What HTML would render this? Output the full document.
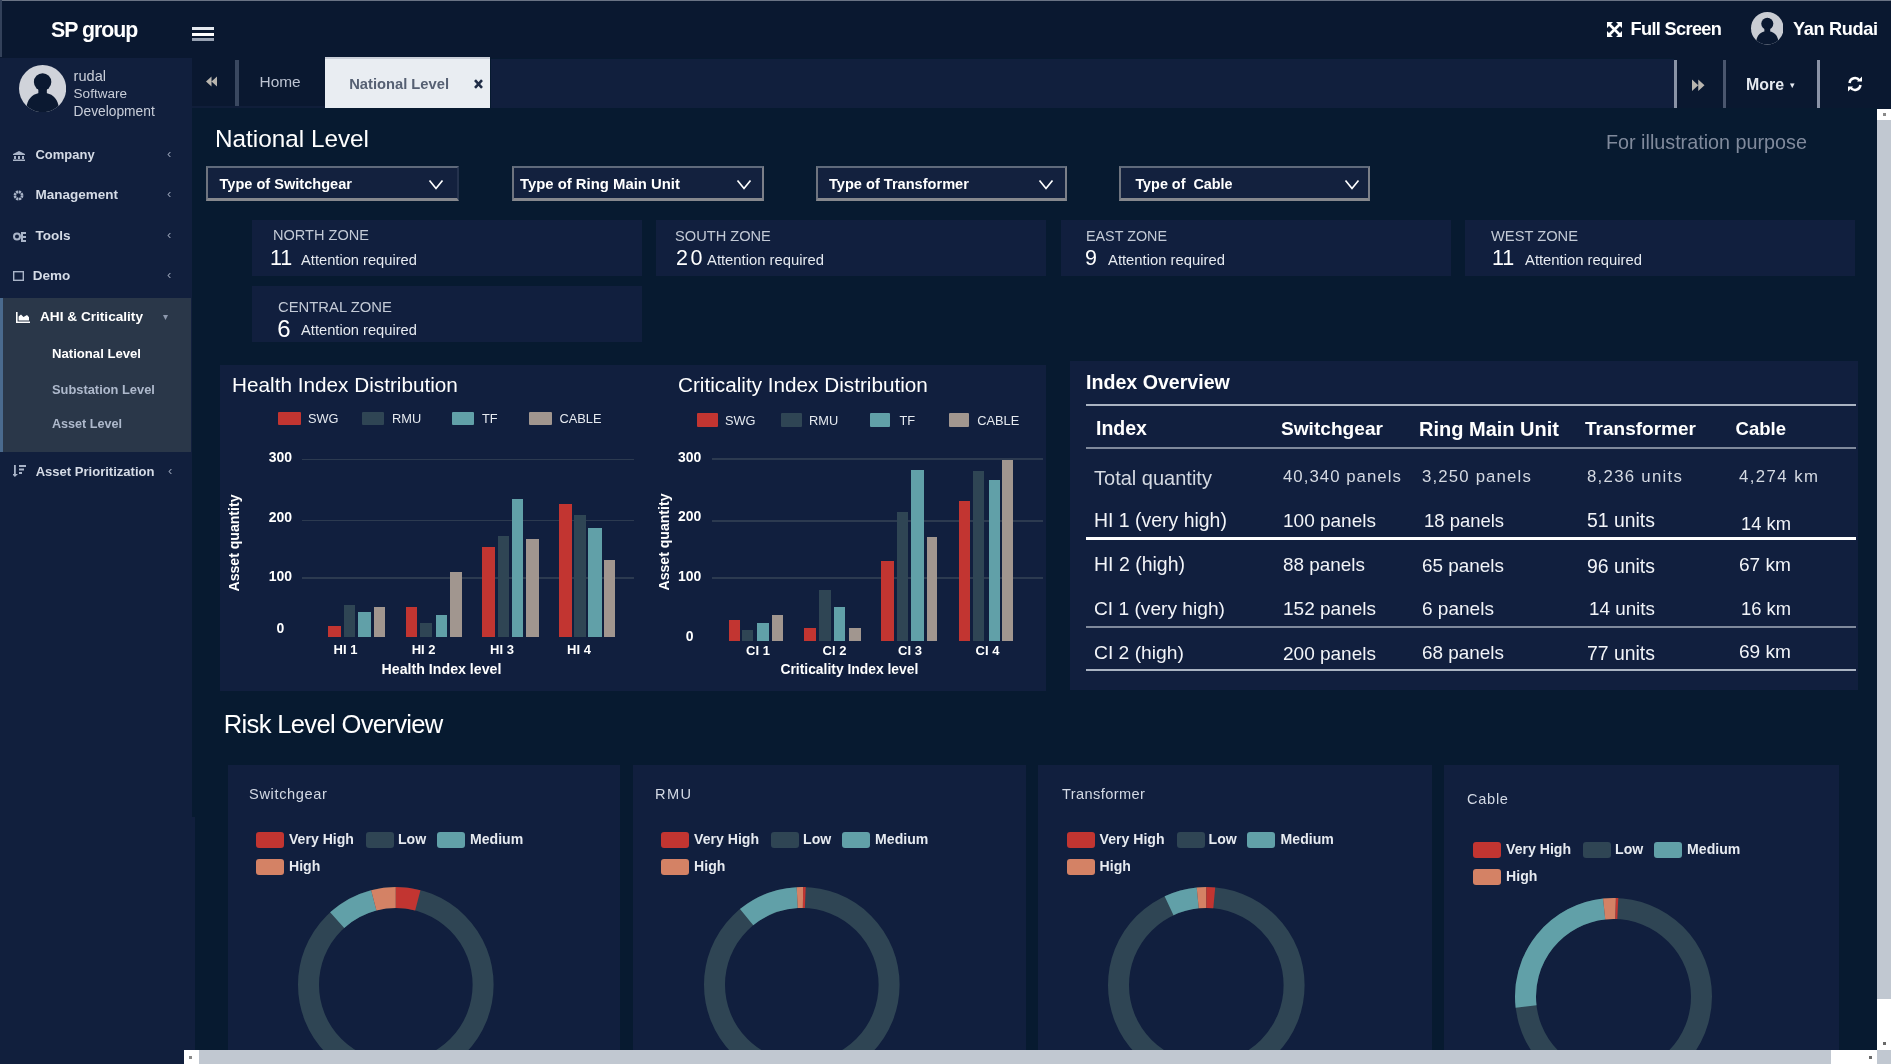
<!DOCTYPE html>
<html><head><meta charset="utf-8"><title>National Level</title>
<style>
html,body{margin:0;padding:0;}
body{width:1891px;height:1064px;overflow:hidden;background:#071a30;font-family:"Liberation Sans",sans-serif;position:relative;}
.t{position:absolute;white-space:nowrap;filter:blur(0.65px);}
svg.r{filter:blur(0.5px);}
.r{position:absolute;}
</style></head><body>
<div class="r" style="left:0px;top:0px;width:1891px;height:58px;background:#0a1830;"></div>
<div class="r" style="left:0px;top:58px;width:192px;height:760px;background:#111f3d;"></div>
<div class="r" style="left:192px;top:58px;width:133px;height:48px;background:#0a1830;"></div>
<div class="r" style="left:1674px;top:58px;width:217px;height:50.5px;background:#0a1830;"></div>
<div class="r" style="left:192px;top:106px;width:133px;height:2px;background:#101e3a;"></div>
<div class="r" style="left:490.5px;top:59.2px;width:1183.2px;height:48.9px;background:#111f3d;"></div>
<div class="r" style="left:0px;top:0px;width:1891px;height:1px;background:#6a7384;"></div>
<div class="r" style="left:0px;top:0px;width:2px;height:57px;background:#33415a;"></div>
<div class="t" style="left:51px;top:17.9px;font-size:21.3px;line-height:25.6px;color:#fff;font-weight:bold;letter-spacing:-0.997px;">SP group</div>
<div class="r" style="left:192px;top:27.3px;width:22px;height:3px;background:#e4e8ee;"></div>
<div class="r" style="left:192px;top:32.5px;width:22px;height:3px;background:#ffffff;"></div>
<div class="r" style="left:192px;top:37.7px;width:22px;height:3px;background:#98a2b3;"></div>
<svg class="r" style="left:1606px;top:21px" width="17" height="17" viewBox="0 0 17 17"><g stroke="#fff" stroke-width="2.6" fill="none"><path d="M2.5 2.5 L14.5 14.5 M14.5 2.5 L2.5 14.5"/></g><g fill="#fff"><path d="M1 1h6L1 7z M16 1v6L10 1z M1 16v-6l6 6z M16 16h-6l6-6z"/></g></svg>
<div class="t" style="left:1630.6px;top:18.7px;font-size:18.2px;line-height:21.8px;color:#fff;font-weight:bold;letter-spacing:-0.671px;">Full Screen</div>
<div class="t" style="left:1793px;top:18.7px;font-size:18.2px;line-height:21.8px;color:#fff;font-weight:bold;letter-spacing:-0.373px;">Yan Rudai</div>
<svg class="r" style="left:1750.7px;top:12.0px" width="32.6" height="32.6" viewBox="0 0 100 100"><defs><clipPath id="c1767"><circle cx="50" cy="50" r="50"/></clipPath></defs><circle cx="50" cy="50" r="50" fill="#c9ccd3"/><g clip-path="url(#c1767)" fill="#0a1830"><circle cx="50" cy="36" r="18.5"/><rect x="41" y="48" width="18" height="16"/><path d="M15 100 C15 68 33 59 50 59 C67 59 85 68 85 100 Z"/></g></svg>
<svg class="r" style="left:18.6px;top:64.6px" width="47.2" height="47.2" viewBox="0 0 100 100"><defs><clipPath id="c42"><circle cx="50" cy="50" r="50"/></clipPath></defs><circle cx="50" cy="50" r="50" fill="#d0d3da"/><g clip-path="url(#c42)" fill="#0b1931"><circle cx="50" cy="36" r="18.5"/><rect x="41" y="48" width="18" height="16"/><path d="M15 100 C15 68 33 59 50 59 C67 59 85 68 85 100 Z"/></g></svg>
<div class="t" style="left:73.6px;top:67.5px;font-size:14.57px;line-height:17.5px;color:#c9ced9;">rudal</div>
<div class="t" style="left:73.6px;top:85.9px;font-size:13.53px;line-height:16.2px;color:#c9ced9;">Software</div>
<div class="t" style="left:73.6px;top:104.0px;font-size:13.78px;line-height:16.5px;color:#c9ced9;">Development</div>
<div class="t" style="left:35.5px;top:147.2px;font-size:12.97px;line-height:15.6px;color:#d5dbe6;font-weight:bold;">Company</div>
<svg class="r" style="left:13px;top:calc(155px - 4px)" width="12" height="10" viewBox="0 0 12 10"><path d="M0 3 L6 0 L12 3 V4 H0Z M1 5h2v3H1z M5 5h2v3H5z M9 5h2v3H9z M0 8.6h12V10H0z" fill="#a9b4c8"/></svg>
<div class="t" style="left:167px;top:146.2px;font-size:13px;line-height:15.6px;color:#8d98ad;">‹</div>
<div class="t" style="left:35.5px;top:186.9px;font-size:13.5px;line-height:16.2px;color:#d5dbe6;font-weight:bold;">Management</div>
<svg class="r" style="left:13px;top:calc(195px - 5.5px)" width="11" height="11" viewBox="0 0 11 11"><circle cx="5.5" cy="5.5" r="3.6" fill="none" stroke="#a9b4c8" stroke-width="2.6" stroke-dasharray="2.2 0.6"/></svg>
<div class="t" style="left:167px;top:186.2px;font-size:13px;line-height:15.6px;color:#8d98ad;">‹</div>
<div class="t" style="left:35.5px;top:227.9px;font-size:13.54px;line-height:16.2px;color:#d5dbe6;font-weight:bold;">Tools</div>
<svg class="r" style="left:13px;top:calc(236px - 5.5px)" width="14" height="11" viewBox="0 0 14 11"><circle cx="4" cy="5.5" r="3" fill="none" stroke="#a9b4c8" stroke-width="2"/><path d="M8 1h5v2H10v2h3v2H10v2h3v2H8z" fill="#a9b4c8"/></svg>
<div class="t" style="left:167px;top:227.2px;font-size:13px;line-height:15.6px;color:#8d98ad;">‹</div>
<div class="t" style="left:32.7px;top:267.9px;font-size:13.53px;line-height:16.2px;color:#d5dbe6;font-weight:bold;">Demo</div>
<svg class="r" style="left:13px;top:calc(276px - 5px)" width="11" height="10" viewBox="0 0 11 10"><rect x="0.7" y="0.7" width="9.6" height="8.6" fill="none" stroke="#a9b4c8" stroke-width="1.4"/></svg>
<div class="t" style="left:167px;top:267.2px;font-size:13px;line-height:15.6px;color:#8d98ad;">‹</div>
<div class="r" style="left:0px;top:298px;width:191px;height:154px;background:#2a3749;"></div>
<div class="r" style="left:0px;top:298px;width:3px;height:154px;background:#4a6a8e;"></div>
<svg class="r" style="left:16px;top:311.5px" width="14" height="11" viewBox="0 0 14 11"><path d="M0 0h1.6v9.4H14V11H0z M2.6 8.4V4.5L5 2.5l2.5 2.5L11 3l2 2.2v3.2z" fill="#fff"/></svg>
<div class="t" style="left:40px;top:308.8px;font-size:13.63px;line-height:16.4px;color:#fff;font-weight:bold;">AHI &amp; Criticality</div>
<div class="t" style="left:163px;top:311.0px;font-size:10px;line-height:12.0px;color:#8d98ad;">▾</div>
<div class="t" style="left:52px;top:346.1px;font-size:13.13px;line-height:15.8px;color:#fff;font-weight:bold;">National Level</div>
<div class="t" style="left:52px;top:382.3px;font-size:12.87px;line-height:15.4px;color:#aeb9cc;font-weight:bold;">Substation Level</div>
<div class="t" style="left:52px;top:417.4px;font-size:12.59px;line-height:15.1px;color:#aeb9cc;font-weight:bold;">Asset Level</div>
<div class="t" style="left:35.7px;top:463.6px;font-size:13.04px;line-height:15.6px;color:#d5dbe6;font-weight:bold;">Asset Prioritization</div>
<svg class="r" style="left:13px;top:calc(471.4px - 6px)" width="13" height="12" viewBox="0 0 13 12"><path d="M1 0h1.8v9H5L1.9 12 -1 9H1z M6 0h7v2H6z M6 3.5h5v2H6z M6 7h3v2H6z" fill="#a9b4c8"/></svg>
<div class="t" style="left:168px;top:462.6px;font-size:13px;line-height:15.6px;color:#8d98ad;">‹</div>
<svg class="r" style="left:206px;top:76px" width="11" height="11" viewBox="0 0 11 11"><path d="M5.5 0.5v10L0 5.5z M11 0.5v10L5.5 5.5z" fill="#b9b5ae"/></svg>
<div class="r" style="left:234.5px;top:60px;width:4px;height:45.5px;background:#3a4860;"></div>
<div class="t" style="left:259.5px;top:72.8px;font-size:15.45px;line-height:18.5px;color:#bcc3d2;">Home</div>
<div class="r" style="left:325px;top:57.4px;width:165.4px;height:51.3px;background:#e9edf2;"></div>
<div class="r" style="left:325px;top:57.4px;width:165.4px;height:1.6px;background:#c9ced8;"></div>
<div class="t" style="left:349.2px;top:76.2px;font-size:14.72px;line-height:17.7px;color:#566073;font-weight:bold;">National Level</div>
<svg class="r" style="left:473.5px;top:79.2px" width="9" height="10" viewBox="0 0 9 10"><path d="M1 1.2 L8 8.8 M8 1.2 L1 8.8" stroke="#1f2c46" stroke-width="2.6"/></svg>
<div class="r" style="left:1674px;top:59.7px;width:3px;height:49px;background:#8a93a6;"></div>
<svg class="r" style="left:1692px;top:79px" width="12.5" height="12.5" viewBox="0 0 11 11"><path d="M0 0.5v10L5.5 5.5z M5.5 0.5v10L11 5.5z" fill="#b9b5ae"/></svg>
<div class="r" style="left:1723px;top:59.7px;width:2.6px;height:49px;background:#4a566e;"></div>
<div class="t" style="left:1746px;top:74.5px;font-size:15.91px;line-height:19.1px;color:#e6eaf0;font-weight:bold;">More</div>
<div class="t" style="left:1789.5px;top:79.8px;font-size:9px;line-height:10.8px;color:#e6eaf0;">▾</div>
<div class="r" style="left:1817.3px;top:59.7px;width:3px;height:49px;background:#8a93a6;"></div>
<svg class="r" style="left:1847px;top:76px" width="16" height="16" viewBox="0 0 16 16"><path d="M2.5 7 A5.5 5.5 0 0 1 12.5 4.5" stroke="#fff" stroke-width="2.4" fill="none"/><path d="M13.5 9 A5.5 5.5 0 0 1 3.5 11.5" stroke="#fff" stroke-width="2.4" fill="none"/><path d="M10 5.5h5v-5z M6 10.5h-5v5z" fill="#fff"/></svg>
<div class="r" style="left:192px;top:108px;width:1685px;height:942px;background:#071a30;"></div>
<div class="r" style="left:0px;top:817px;width:195px;height:247px;background:#111f3d;"></div>
<div class="t" style="left:215px;top:124.4px;font-size:24.3px;line-height:29.2px;color:#fff;">National Level</div>
<div class="t" style="left:1606px;top:131.1px;font-size:19.76px;line-height:23.7px;color:#808a9c;">For illustration purpose</div>
<div class="r" style="left:206px;top:165.5px;width:252.5px;height:35px;background:#13213e;box-sizing:border-box;border-style:solid;border-width:2.5px 2px 3px 2px;border-color:#5f6a7b #24324d #86888d #6e747f"></div>
<div class="t" style="left:219.5px;top:176.2px;font-size:14.57px;line-height:17.5px;color:#fff;font-weight:bold;">Type of Switchgear</div>
<svg class="r" style="left:428.3px;top:178.8px" width="16" height="12" viewBox="0 0 16 12"><path d="M1.5 1.5 L8 9.5 L14.5 1.5" stroke="#fff" stroke-width="1.7" fill="none"/></svg>
<div class="r" style="left:511.5px;top:165.5px;width:252.3px;height:35px;background:#13213e;box-sizing:border-box;border-style:solid;border-width:2.5px 2px 3px 2px;border-color:#5f6a7b #7b7f88 #86888d #6e747f"></div>
<div class="t" style="left:520px;top:176.1px;font-size:14.87px;line-height:17.8px;color:#fff;font-weight:bold;">Type of Ring Main Unit</div>
<svg class="r" style="left:735.8px;top:178.8px" width="16" height="12" viewBox="0 0 16 12"><path d="M1.5 1.5 L8 9.5 L14.5 1.5" stroke="#fff" stroke-width="1.7" fill="none"/></svg>
<div class="r" style="left:815.5px;top:165.5px;width:251.7px;height:35px;background:#13213e;box-sizing:border-box;border-style:solid;border-width:2.5px 2px 3px 2px;border-color:#5f6a7b #7b7f88 #86888d #6e747f"></div>
<div class="t" style="left:829px;top:176.2px;font-size:14.59px;line-height:17.5px;color:#fff;font-weight:bold;">Type of Transformer</div>
<svg class="r" style="left:1038px;top:178.8px" width="16" height="12" viewBox="0 0 16 12"><path d="M1.5 1.5 L8 9.5 L14.5 1.5" stroke="#fff" stroke-width="1.7" fill="none"/></svg>
<div class="r" style="left:1119px;top:165.5px;width:251.3px;height:35px;background:#13213e;box-sizing:border-box;border-style:solid;border-width:2.5px 2px 3px 2px;border-color:#5f6a7b #7b7f88 #86888d #6e747f"></div>
<div class="t" style="left:1135.4px;top:176.3px;font-size:14.39px;line-height:17.3px;color:#fff;font-weight:bold;">Type of&nbsp; Cable</div>
<svg class="r" style="left:1344.3px;top:178.8px" width="16" height="12" viewBox="0 0 16 12"><path d="M1.5 1.5 L8 9.5 L14.5 1.5" stroke="#fff" stroke-width="1.7" fill="none"/></svg>
<div class="r" style="left:252px;top:219.8px;width:390px;height:56.7px;background:#111f3e;"></div>
<div class="t" style="left:273px;top:226.8px;font-size:14.56px;line-height:17.5px;color:#c3cad6;">NORTH ZONE</div>
<div class="t" style="left:270px;top:245.8px;font-size:21.5px;line-height:25.8px;color:#fff;">11</div>
<div class="t" style="left:301px;top:252.4px;font-size:14.69px;line-height:17.6px;color:#e6eaf0;">Attention required</div>
<div class="r" style="left:656px;top:219.8px;width:390px;height:56.7px;background:#111f3e;"></div>
<div class="t" style="left:675px;top:227.8px;font-size:14.64px;line-height:17.6px;color:#c3cad6;">SOUTH ZONE</div>
<div class="t" style="left:676px;top:245.8px;font-size:21.5px;line-height:25.8px;color:#fff;letter-spacing:2.6px;">20</div>
<div class="t" style="left:707px;top:252.3px;font-size:14.82px;line-height:17.8px;color:#e6eaf0;">Attention required</div>
<div class="r" style="left:1061px;top:219.8px;width:390px;height:56.7px;background:#111f3e;"></div>
<div class="t" style="left:1086px;top:228.0px;font-size:14.34px;line-height:17.2px;color:#c3cad6;">EAST ZONE</div>
<div class="t" style="left:1085px;top:245.8px;font-size:21.5px;line-height:25.8px;color:#fff;">9</div>
<div class="t" style="left:1108px;top:252.3px;font-size:14.82px;line-height:17.8px;color:#e6eaf0;">Attention required</div>
<div class="r" style="left:1465px;top:219.8px;width:390px;height:56.7px;background:#111f3e;"></div>
<div class="t" style="left:1491px;top:227.8px;font-size:14.68px;line-height:17.6px;color:#c3cad6;">WEST ZONE</div>
<div class="t" style="left:1492px;top:245.8px;font-size:21.5px;line-height:25.8px;color:#fff;">11</div>
<div class="t" style="left:1525px;top:252.3px;font-size:14.82px;line-height:17.8px;color:#e6eaf0;">Attention required</div>
<div class="r" style="left:252px;top:285.8px;width:390px;height:56.7px;background:#111f3e;"></div>
<div class="t" style="left:278px;top:298.7px;font-size:14.83px;line-height:17.8px;color:#c3cad6;">CENTRAL ZONE</div>
<div class="t" style="left:277.3px;top:314.9px;font-size:24px;line-height:28.8px;color:#fff;">6</div>
<div class="t" style="left:301px;top:322.4px;font-size:14.69px;line-height:17.6px;color:#e6eaf0;">Attention required</div>
<div class="r" style="left:220px;top:365px;width:826px;height:326px;background:#111f3e;"></div>
<div class="t" style="left:232px;top:372.6px;font-size:20.74px;line-height:24.9px;color:#fff;">Health Index Distribution</div>
<div class="r" style="left:278px;top:412px;width:23px;height:13px;background:#c23531;border-radius:1px"></div>
<div class="t" style="left:308px;top:411.3px;font-size:12.81px;line-height:15.4px;color:#e6eaf0;">SWG</div>
<div class="r" style="left:362px;top:412px;width:22px;height:13px;background:#2f4554;border-radius:1px"></div>
<div class="t" style="left:392px;top:411.3px;font-size:12.81px;line-height:15.4px;color:#e6eaf0;">RMU</div>
<div class="r" style="left:452px;top:412px;width:22px;height:13px;background:#61a0a8;border-radius:1px"></div>
<div class="t" style="left:482px;top:411.3px;font-size:12.81px;line-height:15.4px;color:#e6eaf0;">TF</div>
<div class="r" style="left:529px;top:412px;width:22.5px;height:13px;background:#a1968f;border-radius:1px"></div>
<div class="t" style="left:559.5px;top:411.3px;font-size:12.81px;line-height:15.4px;color:#e6eaf0;">CABLE</div>
<div class="r" style="left:302px;top:458.85px;width:332px;height:1.5px;background:#2c3a50;"></div>
<div class="r" style="left:302px;top:519.75px;width:332px;height:1.5px;background:#2c3a50;"></div>
<div class="r" style="left:302px;top:577.25px;width:332px;height:1.5px;background:#2c3a50;"></div>
<div class="t" style="left:80.30000000000001px;width:400px;text-align:center;top:448.9px;font-size:13.96px;line-height:16.8px;color:#fff;font-weight:bold;">300</div>
<div class="t" style="left:80.30000000000001px;width:400px;text-align:center;top:509.0px;font-size:13.96px;line-height:16.8px;color:#fff;font-weight:bold;">200</div>
<div class="t" style="left:80.30000000000001px;width:400px;text-align:center;top:568.3px;font-size:13.96px;line-height:16.8px;color:#fff;font-weight:bold;">100</div>
<div class="t" style="left:80.30000000000001px;width:400px;text-align:center;top:620.3px;font-size:13.96px;line-height:16.8px;color:#fff;font-weight:bold;">0</div>
<div class="r" style="left:328.3px;top:626px;width:12.7px;height:11px;background:#c23531;"></div>
<div class="r" style="left:344px;top:604.5px;width:11.2px;height:32.5px;background:#2f4554;"></div>
<div class="r" style="left:357.7px;top:612px;width:13.2px;height:25px;background:#61a0a8;"></div>
<div class="r" style="left:373.5px;top:607px;width:11.0px;height:30px;background:#a1968f;"></div>
<div class="r" style="left:406.3px;top:607px;width:11.2px;height:30px;background:#c23531;"></div>
<div class="r" style="left:420px;top:622.7px;width:11.5px;height:14.3px;background:#2f4554;"></div>
<div class="r" style="left:435.5px;top:614.8px;width:11.9px;height:22.2px;background:#61a0a8;"></div>
<div class="r" style="left:449.8px;top:572px;width:12.2px;height:65px;background:#a1968f;"></div>
<div class="r" style="left:482px;top:547.4px;width:12.5px;height:89.6px;background:#c23531;"></div>
<div class="r" style="left:498px;top:536.4px;width:11.3px;height:100.6px;background:#2f4554;"></div>
<div class="r" style="left:512px;top:498.5px;width:11.4px;height:138.5px;background:#61a0a8;"></div>
<div class="r" style="left:526px;top:539.3px;width:13px;height:97.7px;background:#a1968f;"></div>
<div class="r" style="left:558.6px;top:504px;width:13.0px;height:133px;background:#c23531;"></div>
<div class="r" style="left:573.6px;top:515px;width:12.4px;height:122px;background:#2f4554;"></div>
<div class="r" style="left:588px;top:528px;width:14px;height:109px;background:#61a0a8;"></div>
<div class="r" style="left:604px;top:560px;width:11px;height:77px;background:#a1968f;"></div>
<div class="t" style="left:145.5px;width:400px;text-align:center;top:642.2px;font-size:13px;line-height:15.6px;color:#fff;font-weight:bold;">HI 1</div>
<div class="t" style="left:223.60000000000002px;width:400px;text-align:center;top:642.2px;font-size:13px;line-height:15.6px;color:#fff;font-weight:bold;">HI 2</div>
<div class="t" style="left:302px;width:400px;text-align:center;top:642.2px;font-size:13px;line-height:15.6px;color:#fff;font-weight:bold;">HI 3</div>
<div class="t" style="left:379px;width:400px;text-align:center;top:642.2px;font-size:13px;line-height:15.6px;color:#fff;font-weight:bold;">HI 4</div>
<div class="t" style="left:241.5px;width:400px;text-align:center;top:661.0px;font-size:14.2px;line-height:17.0px;color:#fff;font-weight:bold;">Health Index level</div>
<div class="t" style="left:133.5px;top:534.5px;width:200px;height:16px;line-height:16px;text-align:center;font-size:14.08px;font-weight:bold;color:#fff;transform:rotate(-90deg)">Asset quantity</div>
<div class="t" style="left:678px;top:372.6px;font-size:20.73px;line-height:24.9px;color:#fff;">Criticality Index Distribution</div>
<div class="r" style="left:696.5px;top:412.5px;width:21.5px;height:14.5px;background:#c23531;border-radius:1px"></div>
<div class="t" style="left:725px;top:412.6px;font-size:12.81px;line-height:15.4px;color:#e6eaf0;">SWG</div>
<div class="r" style="left:780.5px;top:412.5px;width:21.0px;height:14.5px;background:#2f4554;border-radius:1px"></div>
<div class="t" style="left:809px;top:412.6px;font-size:12.81px;line-height:15.4px;color:#e6eaf0;">RMU</div>
<div class="r" style="left:869.7px;top:412.5px;width:20.699999999999932px;height:14.5px;background:#61a0a8;border-radius:1px"></div>
<div class="t" style="left:899.5px;top:412.6px;font-size:12.81px;line-height:15.4px;color:#e6eaf0;">TF</div>
<div class="r" style="left:948.6px;top:412.5px;width:20.899999999999977px;height:14.5px;background:#a1968f;border-radius:1px"></div>
<div class="t" style="left:977.3px;top:412.6px;font-size:12.81px;line-height:15.4px;color:#e6eaf0;">CABLE</div>
<div class="r" style="left:712px;top:458.25px;width:330.5999999999999px;height:1.5px;background:#2c3a50;"></div>
<div class="r" style="left:712px;top:520.25px;width:330.5999999999999px;height:1.5px;background:#2c3a50;"></div>
<div class="r" style="left:712px;top:577.25px;width:330.5999999999999px;height:1.5px;background:#2c3a50;"></div>
<div class="t" style="left:489.70000000000005px;width:400px;text-align:center;top:449.1px;font-size:13.96px;line-height:16.8px;color:#fff;font-weight:bold;">300</div>
<div class="t" style="left:489.70000000000005px;width:400px;text-align:center;top:508.3px;font-size:13.96px;line-height:16.8px;color:#fff;font-weight:bold;">200</div>
<div class="t" style="left:489.70000000000005px;width:400px;text-align:center;top:568.3px;font-size:13.96px;line-height:16.8px;color:#fff;font-weight:bold;">100</div>
<div class="t" style="left:489.70000000000005px;width:400px;text-align:center;top:628.1px;font-size:13.96px;line-height:16.8px;color:#fff;font-weight:bold;">0</div>
<div class="r" style="left:728.6px;top:620px;width:11.0px;height:21px;background:#c23531;"></div>
<div class="r" style="left:742px;top:630px;width:11px;height:11px;background:#2f4554;"></div>
<div class="r" style="left:757px;top:623px;width:12px;height:18px;background:#61a0a8;"></div>
<div class="r" style="left:772px;top:615px;width:11.4px;height:26px;background:#a1968f;"></div>
<div class="r" style="left:804px;top:628px;width:11.6px;height:13px;background:#c23531;"></div>
<div class="r" style="left:819px;top:590px;width:12px;height:51px;background:#2f4554;"></div>
<div class="r" style="left:833.5px;top:607px;width:11.5px;height:34px;background:#61a0a8;"></div>
<div class="r" style="left:848.7px;top:628px;width:12.3px;height:13px;background:#a1968f;"></div>
<div class="r" style="left:881px;top:560.6px;width:12.7px;height:80.4px;background:#c23531;"></div>
<div class="r" style="left:896.8px;top:512px;width:11.2px;height:129px;background:#2f4554;"></div>
<div class="r" style="left:910.5px;top:470px;width:13.5px;height:171px;background:#61a0a8;"></div>
<div class="r" style="left:926.6px;top:537px;width:10.4px;height:104px;background:#a1968f;"></div>
<div class="r" style="left:959px;top:501px;width:11px;height:140px;background:#c23531;"></div>
<div class="r" style="left:973px;top:471.3px;width:11px;height:169.7px;background:#2f4554;"></div>
<div class="r" style="left:989px;top:479.6px;width:10.6px;height:161.4px;background:#61a0a8;"></div>
<div class="r" style="left:1002px;top:460.4px;width:11px;height:180.6px;background:#a1968f;"></div>
<div class="t" style="left:558px;width:400px;text-align:center;top:642.7px;font-size:13px;line-height:15.6px;color:#fff;font-weight:bold;">CI 1</div>
<div class="t" style="left:634.5px;width:400px;text-align:center;top:642.7px;font-size:13px;line-height:15.6px;color:#fff;font-weight:bold;">CI 2</div>
<div class="t" style="left:710px;width:400px;text-align:center;top:642.7px;font-size:13px;line-height:15.6px;color:#fff;font-weight:bold;">CI 3</div>
<div class="t" style="left:787.5px;width:400px;text-align:center;top:642.7px;font-size:13px;line-height:15.6px;color:#fff;font-weight:bold;">CI 4</div>
<div class="t" style="left:649.4px;width:400px;text-align:center;top:660.7px;font-size:13.87px;line-height:16.6px;color:#fff;font-weight:bold;">Criticality Index level</div>
<div class="t" style="left:563.6px;top:534px;width:200px;height:16px;line-height:16px;text-align:center;font-size:14.08px;font-weight:bold;color:#fff;transform:rotate(-90deg)">Asset quantity</div>
<div class="r" style="left:1070px;top:361px;width:788px;height:329px;background:#111f3e;"></div>
<div class="t" style="left:1086px;top:371.2px;font-size:19.63px;line-height:23.6px;color:#fff;font-weight:bold;">Index Overview</div>
<div class="r" style="left:1085.5px;top:404.0px;width:770px;height:2px;background:#aab3c2;"></div>
<div class="r" style="left:1085.5px;top:447.0px;width:770px;height:2px;background:#7f899b;"></div>
<div class="r" style="left:1085.5px;top:537.35px;width:770px;height:2.5px;background:#ffffff;"></div>
<div class="r" style="left:1085.5px;top:625.5px;width:770px;height:2px;background:#7f899b;"></div>
<div class="r" style="left:1085.5px;top:668.6px;width:770px;height:2px;background:#aab3c2;"></div>
<div class="t" style="left:1096px;top:417.3px;font-size:19.53px;line-height:23.4px;color:#fff;font-weight:bold;">Index</div>
<div class="t" style="left:1281px;top:417.6px;font-size:19.12px;line-height:22.9px;color:#fff;font-weight:bold;">Switchgear</div>
<div class="t" style="left:1419px;top:417.0px;font-size:20.0px;line-height:24.0px;color:#fff;font-weight:bold;">Ring Main Unit</div>
<div class="t" style="left:1585px;top:417.6px;font-size:19.02px;line-height:22.8px;color:#fff;font-weight:bold;">Transformer</div>
<div class="t" style="left:1735.5px;top:417.9px;font-size:18.54px;line-height:22.2px;color:#fff;font-weight:bold;">Cable</div>
<div class="t" style="left:1094px;top:465.5px;font-size:20.03px;line-height:24.0px;color:#d4d9e2;">Total quantity</div>
<div class="t" style="left:1283px;top:467.2px;font-size:16.8px;line-height:20.2px;color:#d4d9e2;letter-spacing:1.037px;">40,340 panels</div>
<div class="t" style="left:1422px;top:467.2px;font-size:16.8px;line-height:20.2px;color:#d4d9e2;letter-spacing:1.162px;">3,250 panels</div>
<div class="t" style="left:1587px;top:467.2px;font-size:16.8px;line-height:20.2px;color:#d4d9e2;letter-spacing:1.28px;">8,236 units</div>
<div class="t" style="left:1739px;top:467.2px;font-size:16.8px;line-height:20.2px;color:#d4d9e2;letter-spacing:1.414px;">4,274 km</div>
<div class="t" style="left:1094px;top:509.3px;font-size:19.46px;line-height:23.4px;color:#f2f4f8;">HI 1 (very high)</div>
<div class="t" style="left:1283px;top:509.6px;font-size:19.01px;line-height:22.8px;color:#f2f4f8;">100 panels</div>
<div class="t" style="left:1424px;top:509.9px;font-size:18.45px;line-height:22.1px;color:#f2f4f8;">18 panels</div>
<div class="t" style="left:1587px;top:509.4px;font-size:19.41px;line-height:23.3px;color:#f2f4f8;">51 units</div>
<div class="t" style="left:1741px;top:512.6px;font-size:18.36px;line-height:22.0px;color:#f2f4f8;">14 km</div>
<div class="t" style="left:1094px;top:553.3px;font-size:19.49px;line-height:23.4px;color:#f2f4f8;">HI 2 (high)</div>
<div class="t" style="left:1283px;top:553.6px;font-size:18.91px;line-height:22.7px;color:#f2f4f8;">88 panels</div>
<div class="t" style="left:1422px;top:555.4px;font-size:18.91px;line-height:22.7px;color:#f2f4f8;">65 panels</div>
<div class="t" style="left:1587px;top:555.1px;font-size:19.41px;line-height:23.3px;color:#f2f4f8;">96 units</div>
<div class="t" style="left:1739px;top:554.4px;font-size:19.1px;line-height:22.9px;color:#f2f4f8;">67 km</div>
<div class="t" style="left:1094px;top:597.0px;font-size:19.16px;line-height:23.0px;color:#f2f4f8;">CI 1 (very high)</div>
<div class="t" style="left:1283px;top:598.0px;font-size:19.01px;line-height:22.8px;color:#f2f4f8;">152 panels</div>
<div class="t" style="left:1422px;top:598.0px;font-size:19.04px;line-height:22.8px;color:#f2f4f8;">6 panels</div>
<div class="t" style="left:1589px;top:598.1px;font-size:18.84px;line-height:22.6px;color:#f2f4f8;">14 units</div>
<div class="t" style="left:1741px;top:597.5px;font-size:18.36px;line-height:22.0px;color:#f2f4f8;">16 km</div>
<div class="t" style="left:1094px;top:640.5px;font-size:19.28px;line-height:23.1px;color:#f2f4f8;">CI 2 (high)</div>
<div class="t" style="left:1283px;top:642.6px;font-size:19.01px;line-height:22.8px;color:#f2f4f8;">200 panels</div>
<div class="t" style="left:1422px;top:642.4px;font-size:18.91px;line-height:22.7px;color:#f2f4f8;">68 panels</div>
<div class="t" style="left:1587px;top:642.1px;font-size:19.41px;line-height:23.3px;color:#f2f4f8;">77 units</div>
<div class="t" style="left:1739px;top:640.5px;font-size:19.1px;line-height:22.9px;color:#f2f4f8;">69 km</div>
<div class="t" style="left:223.8px;top:709.4px;font-size:25.6px;line-height:30.7px;color:#fff;letter-spacing:-0.683px;">Risk Level Overview</div>
<div class="r" style="left:228px;top:765px;width:392px;height:285px;background:#111f3e;"></div>
<div class="t" style="left:249px;top:785.8px;font-size:14.6px;line-height:17.5px;color:#d3d9e4;letter-spacing:0.642px;">Switchgear</div>
<div class="r" style="left:256.09999999999997px;top:831.5px;width:28px;height:16px;background:#c23531;border-radius:3px"></div>
<div class="t" style="left:289.0px;top:831.0px;font-size:14.09px;line-height:16.9px;color:#e6eaf0;font-weight:bold;">Very High</div>
<div class="r" style="left:366.09999999999997px;top:831.5px;width:28px;height:16px;background:#2f4554;border-radius:3px"></div>
<div class="t" style="left:398.0px;top:831.0px;font-size:14.09px;line-height:16.9px;color:#e6eaf0;font-weight:bold;">Low</div>
<div class="r" style="left:436.7px;top:831.5px;width:28px;height:16px;background:#61a0a8;border-radius:3px"></div>
<div class="t" style="left:470.0px;top:831.0px;font-size:14.09px;line-height:16.9px;color:#e6eaf0;font-weight:bold;">Medium</div>
<div class="r" style="left:256.09999999999997px;top:858.5px;width:28px;height:16px;background:#d48265;border-radius:3px"></div>
<div class="t" style="left:289.0px;top:858.0px;font-size:14.09px;line-height:16.9px;color:#e6eaf0;font-weight:bold;">High</div>
<svg class="r" style="left:296.09999999999997px;top:885.0px" width="199.6" height="199.6" viewBox="-99.8 -99.8 199.6 199.6"><circle cx="0" cy="0" r="87.3" fill="none" stroke="#2f4554" stroke-width="21.0"/><path d="M-58.64 -64.67 A87.3 87.3 0 0 1 -22.01 -84.48" fill="none" stroke="#61a0a8" stroke-width="21.0"/><path d="M-22.01 -84.48 A87.3 87.3 0 0 1 0.00 -87.30" fill="none" stroke="#d48265" stroke-width="21.0"/><path d="M0.00 -87.30 A87.3 87.3 0 0 1 22.01 -84.48" fill="none" stroke="#c23531" stroke-width="21.0"/></svg>
<div class="r" style="left:632.5px;top:765px;width:393.5px;height:285px;background:#111f3e;"></div>
<div class="t" style="left:655px;top:785.8px;font-size:14.6px;line-height:17.5px;color:#d3d9e4;letter-spacing:1.375px;">RMU</div>
<div class="r" style="left:661.2px;top:831.5px;width:28px;height:16px;background:#c23531;border-radius:3px"></div>
<div class="t" style="left:694.1px;top:831.0px;font-size:14.09px;line-height:16.9px;color:#e6eaf0;font-weight:bold;">Very High</div>
<div class="r" style="left:771.2px;top:831.5px;width:28px;height:16px;background:#2f4554;border-radius:3px"></div>
<div class="t" style="left:803.1px;top:831.0px;font-size:14.09px;line-height:16.9px;color:#e6eaf0;font-weight:bold;">Low</div>
<div class="r" style="left:841.8000000000001px;top:831.5px;width:28px;height:16px;background:#61a0a8;border-radius:3px"></div>
<div class="t" style="left:875.1px;top:831.0px;font-size:14.09px;line-height:16.9px;color:#e6eaf0;font-weight:bold;">Medium</div>
<div class="r" style="left:661.2px;top:858.5px;width:28px;height:16px;background:#d48265;border-radius:3px"></div>
<div class="t" style="left:694.1px;top:858.0px;font-size:14.09px;line-height:16.9px;color:#e6eaf0;font-weight:bold;">High</div>
<svg class="r" style="left:701.5500000000001px;top:884.9000000000001px" width="199.6" height="199.6" viewBox="-99.8 -99.8 199.6 199.6"><circle cx="0" cy="0" r="87.3" fill="none" stroke="#2f4554" stroke-width="21.0"/><path d="M-55.18 -67.65 A87.3 87.3 0 0 1 -4.57 -87.18" fill="none" stroke="#61a0a8" stroke-width="21.0"/><path d="M-4.57 -87.18 A87.3 87.3 0 0 1 1.22 -87.29" fill="none" stroke="#d48265" stroke-width="21.0"/><path d="M1.22 -87.29 A87.3 87.3 0 0 1 3.50 -87.23" fill="none" stroke="#c23531" stroke-width="21.0"/></svg>
<div class="r" style="left:1037.5px;top:765px;width:394.5px;height:285px;background:#111f3e;"></div>
<div class="t" style="left:1062px;top:785.6px;font-size:14.6px;line-height:17.5px;color:#d3d9e4;letter-spacing:0.404px;">Transformer</div>
<div class="r" style="left:1066.7px;top:831.5px;width:28px;height:16px;background:#c23531;border-radius:3px"></div>
<div class="t" style="left:1099.6px;top:831.0px;font-size:14.09px;line-height:16.9px;color:#e6eaf0;font-weight:bold;">Very High</div>
<div class="r" style="left:1176.7px;top:831.5px;width:28px;height:16px;background:#2f4554;border-radius:3px"></div>
<div class="t" style="left:1208.6px;top:831.0px;font-size:14.09px;line-height:16.9px;color:#e6eaf0;font-weight:bold;">Low</div>
<div class="r" style="left:1247.3px;top:831.5px;width:28px;height:16px;background:#61a0a8;border-radius:3px"></div>
<div class="t" style="left:1280.6px;top:831.0px;font-size:14.09px;line-height:16.9px;color:#e6eaf0;font-weight:bold;">Medium</div>
<div class="r" style="left:1066.7px;top:858.5px;width:28px;height:16px;background:#d48265;border-radius:3px"></div>
<div class="t" style="left:1099.6px;top:858.0px;font-size:14.09px;line-height:16.9px;color:#e6eaf0;font-weight:bold;">High</div>
<svg class="r" style="left:1106.3px;top:885.0px" width="200.6" height="200.6" viewBox="-100.3 -100.3 200.6 200.6"><circle cx="0" cy="0" r="87.8" fill="none" stroke="#2f4554" stroke-width="21.0"/><path d="M-37.24 -79.51 A87.8 87.8 0 0 1 -8.57 -87.38" fill="none" stroke="#61a0a8" stroke-width="21.0"/><path d="M-8.57 -87.38 A87.8 87.8 0 0 1 0.00 -87.80" fill="none" stroke="#d48265" stroke-width="21.0"/><path d="M0.00 -87.80 A87.8 87.8 0 0 1 7.96 -87.44" fill="none" stroke="#c23531" stroke-width="21.0"/></svg>
<div class="r" style="left:1444px;top:765px;width:395px;height:285px;background:#111f3e;"></div>
<div class="t" style="left:1467px;top:791.0px;font-size:14.6px;line-height:17.5px;color:#d3d9e4;letter-spacing:0.713px;">Cable</div>
<div class="r" style="left:1473.2px;top:841.7px;width:28px;height:16px;background:#c23531;border-radius:3px"></div>
<div class="t" style="left:1506.1px;top:841.2px;font-size:14.09px;line-height:16.9px;color:#e6eaf0;font-weight:bold;">Very High</div>
<div class="r" style="left:1583.2px;top:841.7px;width:28px;height:16px;background:#2f4554;border-radius:3px"></div>
<div class="t" style="left:1615.1px;top:841.2px;font-size:14.09px;line-height:16.9px;color:#e6eaf0;font-weight:bold;">Low</div>
<div class="r" style="left:1653.8px;top:841.7px;width:28px;height:16px;background:#61a0a8;border-radius:3px"></div>
<div class="t" style="left:1687.1px;top:841.2px;font-size:14.09px;line-height:16.9px;color:#e6eaf0;font-weight:bold;">Medium</div>
<div class="r" style="left:1473.2px;top:868.7px;width:28px;height:16px;background:#d48265;border-radius:3px"></div>
<div class="t" style="left:1506.1px;top:868.2px;font-size:14.09px;line-height:16.9px;color:#e6eaf0;font-weight:bold;">High</div>
<svg class="r" style="left:1512.5px;top:896.3px" width="201.0" height="201.0" viewBox="-100.5 -100.5 201.0 201.0"><circle cx="0" cy="0" r="88.0" fill="none" stroke="#2f4554" stroke-width="21.0"/><path d="M-87.43 9.96 A88.0 88.0 0 0 1 -9.35 -87.50" fill="none" stroke="#61a0a8" stroke-width="21.0"/><path d="M-9.35 -87.50 A88.0 88.0 0 0 1 2.15 -87.97" fill="none" stroke="#d48265" stroke-width="21.0"/><path d="M2.15 -87.97 A88.0 88.0 0 0 1 4.30 -87.89" fill="none" stroke="#c23531" stroke-width="21.0"/></svg>
<div class="r" style="left:1877px;top:108.5px;width:14px;height:942px;background:#ffffff;"></div>
<div class="r" style="left:1877px;top:120px;width:14px;height:879px;background:#c1c8d1;"></div>
<div class="r" style="left:184px;top:1050px;width:1707px;height:14px;background:#ffffff;"></div>
<div class="r" style="left:199px;top:1050px;width:1632px;height:14px;background:#c1c8d1;"></div>
<div class="r" style="left:1877px;top:1050px;width:14px;height:14px;background:#c1c8d1;"></div>
<div class="r" style="left:1882.5px;top:113px;width:3px;height:3px;background:#8a8a8a;"></div>
<div class="r" style="left:1882.5px;top:1041.5px;width:3px;height:3px;background:#6a6a6a;"></div>
<div class="r" style="left:188.5px;top:1055.5px;width:3px;height:3px;background:#8a8a8a;"></div>
<div class="r" style="left:1868.5px;top:1055.5px;width:3px;height:3px;background:#6a6a6a;"></div>
</body></html>
